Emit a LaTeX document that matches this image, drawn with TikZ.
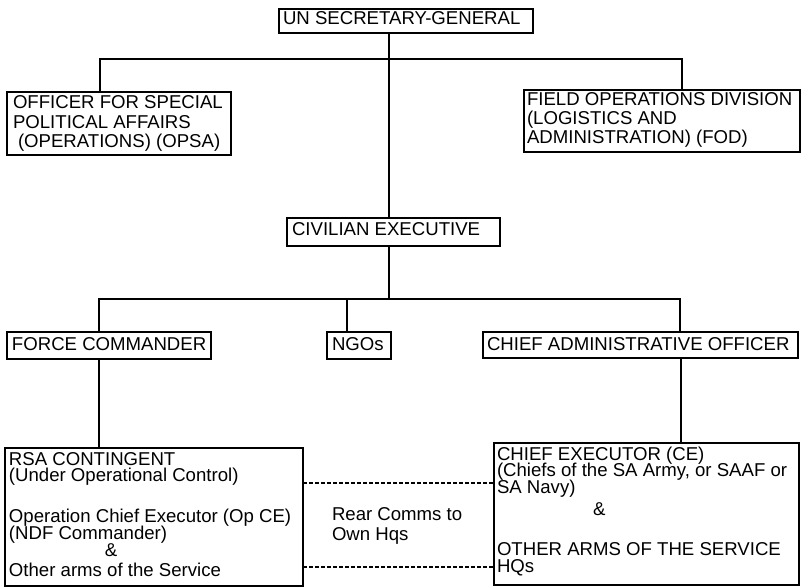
\documentclass[tikz,border=0pt]{standalone}
\usepackage{fontspec}
\setmainfont{Liberation Sans}
\newcommand{\bxt}[5]{\parbox[b][#2][t]{#1}{\lineskiplimit=-100pt\relax\leftskip=#4\relax\rightskip=0pt plus 1fil\relax\rule{0pt}{#3}#5}}
\tikzset{
  orgbox/.style={draw, line width=1.1pt, inner sep=0pt, outer sep=0pt, anchor=north west},
  plaintxt/.style={inner sep=0pt, outer sep=0pt, anchor=north west},
  conn/.style={line width=1.1pt},
  dashconn/.style={line width=1.1pt, dash pattern=on 3.5pt off 2.5pt},
  fA/.style={font=\fontsize{18.6}{16.8}\selectfont},
  fB/.style={font=\fontsize{18.6}{19.5}\selectfont},
  fC/.style={font=\fontsize{18.6}{19}\selectfont},
  fD/.style={font=\fontsize{18.6}{20}\selectfont}
}
\begin{document}
\begin{tikzpicture}[x=1pt,y=-1pt]
\fill[white] (0,0) rectangle (802,588);
\useasboundingbox (0,0) rectangle (802,588);
% boxes
\node[orgbox,fA] (unsg) at (279,9) {\bxt{254pt}{24pt}{16pt}{4pt}{UN SECRETARY-GENERAL}};
\node[orgbox,fB] (opsa) at (7,92) {\bxt{224pt}{63pt}{17pt}{6pt}{OFFICER FOR SPECIAL\\POLITICAL AFFAIRS\\\hspace*{5pt}(OPERATIONS) (OPSA)}};
\node[orgbox,fC] (fod) at (524,90) {\bxt{276pt}{62pt}{16pt}{3pt}{FIELD OPERATIONS DIVISION\\(LOGISTICS AND\\ADMINISTRATION) (FOD)}};
\node[orgbox,fA] (civ) at (287,218) {\bxt{213pt}{28pt}{17pt}{5pt}{CIVILIAN EXECUTIVE}};
\node[orgbox,fA] (fc) at (7,332) {\bxt{204pt}{27pt}{18pt}{5pt}{FORCE COMMANDER}};
\node[orgbox,fA] (ngo) at (327,332) {\bxt{64pt}{27pt}{18pt}{5pt}{NGOs}};
\node[orgbox,fA] (cao) at (483,332) {\bxt{315pt}{26pt}{18pt}{4pt}{CHIEF ADMINISTRATIVE OFFICER}};
\node[orgbox,fA] (rsa) at (5,448) {\bxt{298pt}{138pt}{17pt}{4pt}{RSA CONTINGENT\\(Under Operational Control)\\[24pt]Operation Chief Executor (Op CE)\\(NDF Commander)\\\hspace*{96pt}\&\\[3pt]Other arms of the Service}};
\node[orgbox,fA] (ce) at (494,443) {\bxt{305pt}{142pt}{17pt}{3pt}{CHIEF EXECUTOR (CE)\\(Chiefs of the SA Army, or SAAF or\\SA Navy)\\[5pt]\hspace*{96pt}\&\\[23pt]OTHER ARMS OF THE SERVICE\\HQs}};
\node[plaintxt,fD] (rear) at (328,500) {\bxt{140pt}{45pt}{20pt}{4pt}{Rear Comms to\\Own Hqs}};
% junction coordinates
\coordinate (a1) at (389,59);
\coordinate (a2) at (389,299);
\coordinate (bl1) at (100,59);
\coordinate (br1) at (682,59);
\coordinate (bl2) at (99,299);
\coordinate (bm2) at (347,299);
\coordinate (br2) at (680,299);
\coordinate (cx) at (681,0);
\coordinate (d1) at (0,483);
\coordinate (d2) at (0,567);
% connectors
\draw[conn] (a1 |- unsg.south) -- (a1 |- civ.north);
\draw[conn] (bl1 |- opsa.north) -- (bl1) -- (br1) -- (br1 |- fod.north);
\draw[conn] (a2 |- civ.south) -- (a2);
\draw[conn] (bl2 |- fc.north) -- (bl2) -- (br2) -- (br2 |- cao.north);
\draw[conn] (bm2) -- (bm2 |- ngo.north);
\draw[conn] (bl2 |- fc.south) -- (bl2 |- rsa.north);
\draw[conn] (cx |- cao.south) -- (cx |- ce.north);
\draw[dashconn] (rsa.east |- d1) -- (ce.west |- d1);
\draw[dashconn] (rsa.east |- d2) -- (ce.west |- d2);
\end{tikzpicture}
\end{document}
